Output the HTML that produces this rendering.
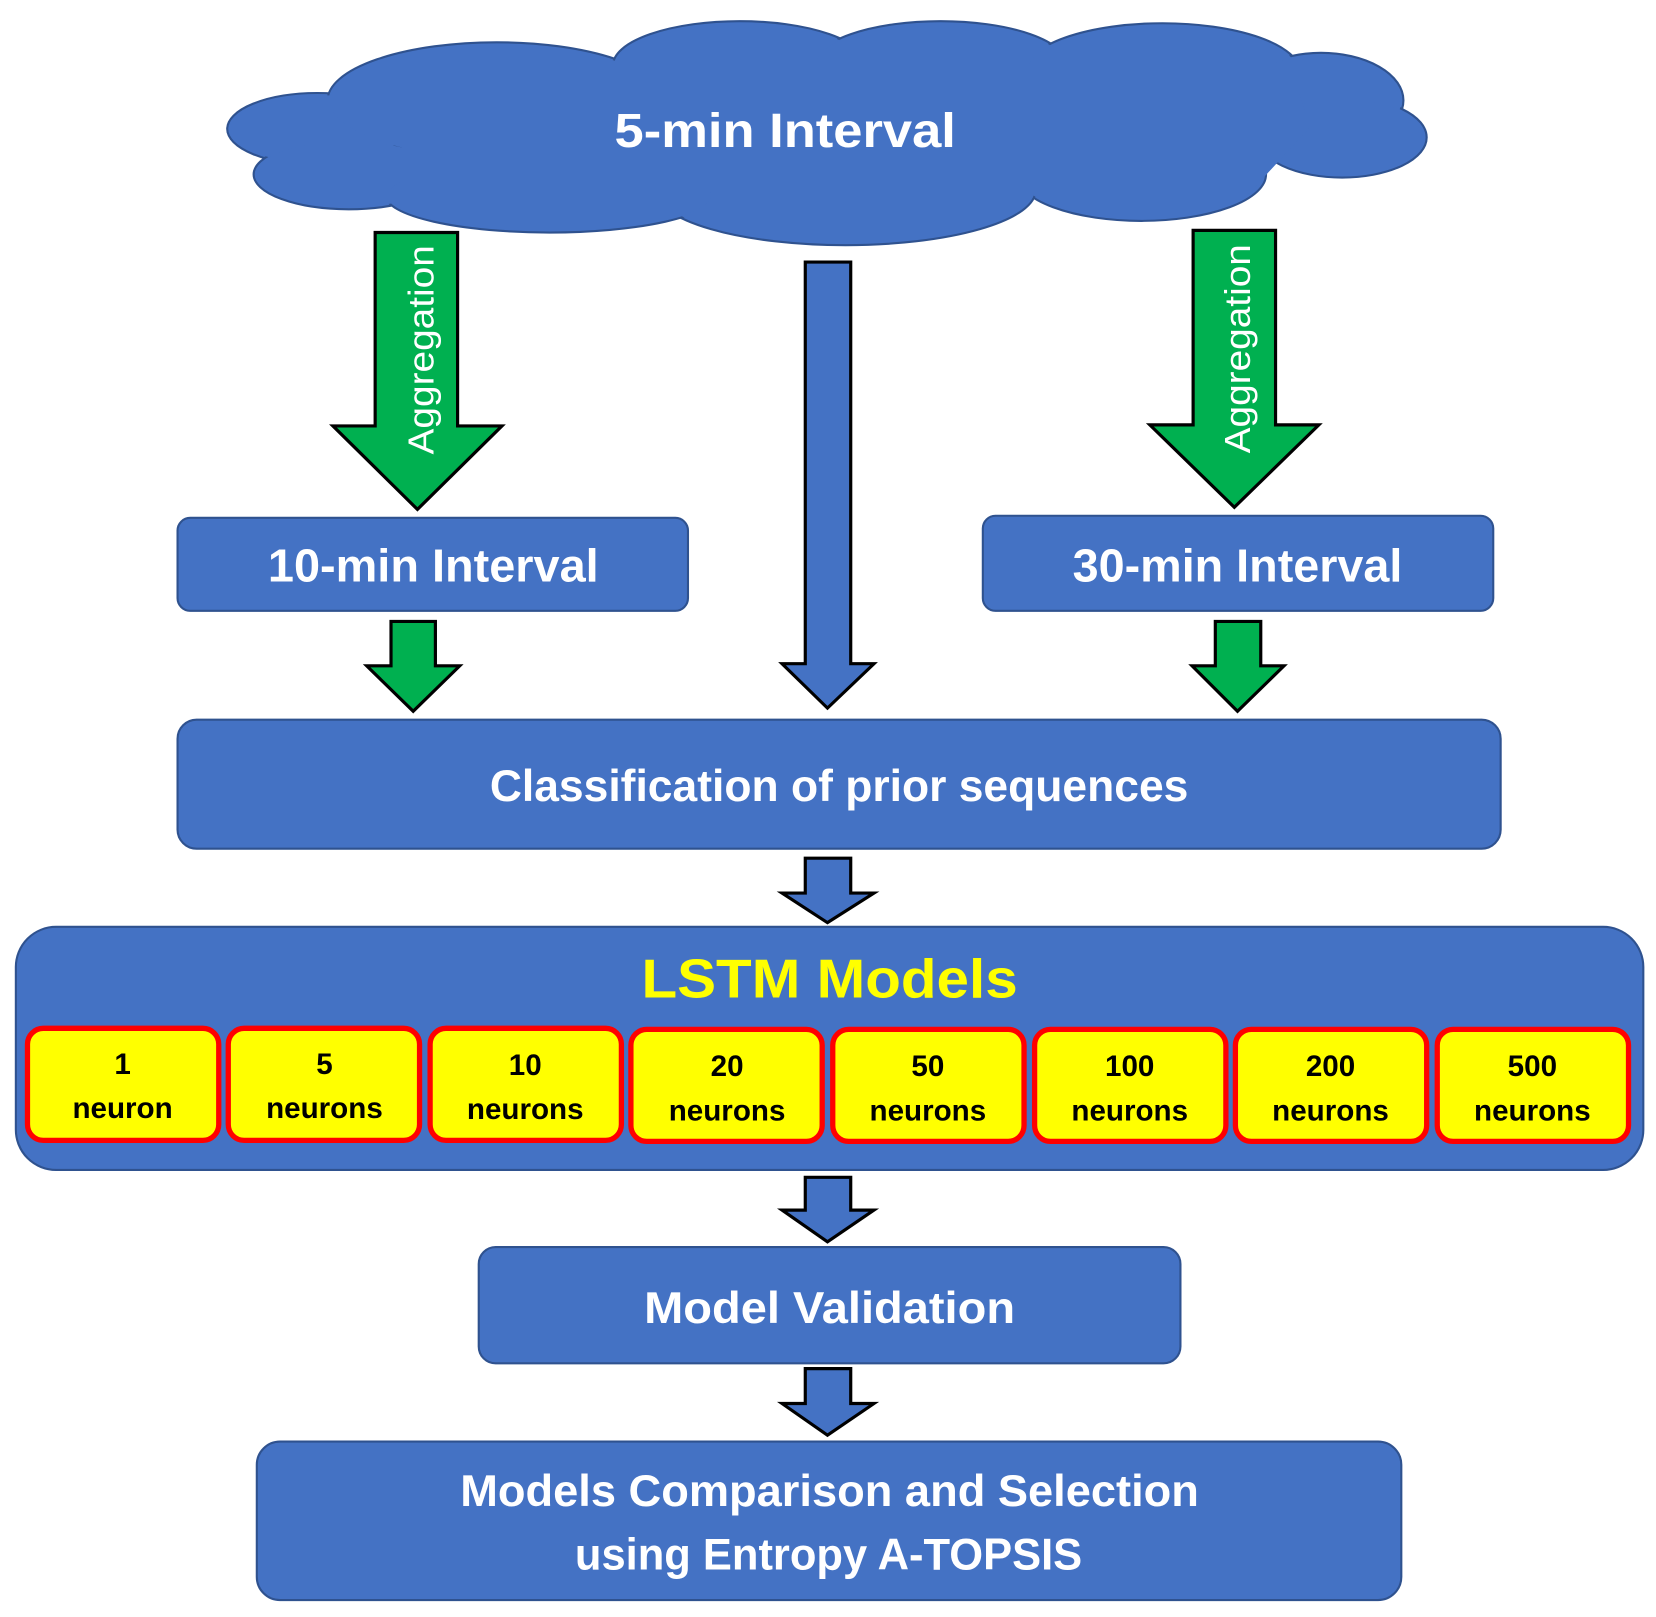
<!DOCTYPE html>
<html><head><meta charset="utf-8"><style>
html,body{margin:0;padding:0;background:#fff;}
svg{display:block;}
text{font-family:"Liberation Sans",sans-serif;font-weight:bold;}
</style></head><body>
<svg width="1656" height="1617" viewBox="0 0 1567 1530" preserveAspectRatio="none" xmlns="http://www.w3.org/2000/svg">
<rect width="1567" height="1530" fill="#fff"/>
<g fill="#4472C4" stroke="#2F528F" stroke-width="2">
<ellipse cx="300" cy="122" rx="85" ry="34"/>
<ellipse cx="330" cy="165" rx="90" ry="33"/>
<ellipse cx="470" cy="95" rx="160" ry="55"/>
<ellipse cx="700" cy="62" rx="120" ry="42"/>
<ellipse cx="890" cy="62" rx="120" ry="42"/>
<ellipse cx="1100" cy="68" rx="130" ry="46"/>
<ellipse cx="1250" cy="95" rx="78" ry="45"/>
<ellipse cx="1270" cy="130" rx="80" ry="38"/>
<ellipse cx="1080" cy="165" rx="118" ry="44"/>
<ellipse cx="800" cy="180" rx="180" ry="52"/>
<ellipse cx="520" cy="185" rx="155" ry="35"/>
</g>
<g fill="#4472C4">
<ellipse cx="300" cy="122" rx="83" ry="32"/>
<ellipse cx="330" cy="165" rx="88" ry="31"/>
<ellipse cx="470" cy="95" rx="158" ry="53"/>
<ellipse cx="700" cy="62" rx="118" ry="40"/>
<ellipse cx="890" cy="62" rx="118" ry="40"/>
<ellipse cx="1100" cy="68" rx="128" ry="44"/>
<ellipse cx="1250" cy="95" rx="76" ry="43"/>
<ellipse cx="1270" cy="130" rx="78" ry="36"/>
<ellipse cx="1080" cy="165" rx="116" ry="42"/>
<ellipse cx="800" cy="180" rx="178" ry="50"/>
<ellipse cx="520" cy="185" rx="153" ry="33"/>
<polygon points="380,60 1220,60 1240,120 1180,185 380,180"/>
</g>
<text x="743" y="139" fill="#fff" font-size="46" text-anchor="middle" textLength="323" lengthAdjust="spacingAndGlyphs">5-min Interval</text>

<g fill="#00B050" stroke="#000" stroke-width="3" stroke-linejoin="miter">
<polygon points="355,220 433,220 433,403 475,403 395,482 315,403 355,403"/>
<polygon points="1129,218 1207,218 1207,402 1248,402 1168,480 1088,402 1129,402"/>
<polygon points="370,588 412,588 412,630 435,630 391,673 347,630 370,630"/>
<polygon points="1150,588 1193,588 1193,630 1215,630 1171,673 1128,630 1150,630"/>
</g>
<text transform="translate(410,331) rotate(-90)" fill="#fff" font-size="34" style="font-weight:normal" text-anchor="middle" textLength="198" lengthAdjust="spacingAndGlyphs">Aggregation</text>
<text transform="translate(1183,330) rotate(-90)" fill="#fff" font-size="34" style="font-weight:normal" text-anchor="middle" textLength="198" lengthAdjust="spacingAndGlyphs">Aggregation</text>

<g fill="#4472C4" stroke="#000" stroke-width="3">
<polygon points="762,248 805,248 805,628 827,628 783,670 740,628 762,628"/>
<polygon points="762,812 805,812 805,845 827,845 783,873 740,845 762,845"/>
<polygon points="762,1114 805,1114 805,1145 827,1145 783,1175 740,1145 762,1145"/>
<polygon points="762,1295 805,1295 805,1328 827,1328 783,1358 740,1328 762,1328"/>
</g>

<g fill="#4472C4" stroke="#2F528F" stroke-width="2">
<rect x="168" y="490" width="483" height="88" rx="12"/>
<rect x="930" y="488" width="483" height="90" rx="12"/>
<rect x="168" y="681" width="1252" height="122" rx="18"/>
<rect x="15" y="877" width="1540" height="230" rx="38"/>
<rect x="453" y="1180" width="664" height="110" rx="16"/>
<rect x="243" y="1364" width="1083" height="150" rx="22"/>
</g>
<text x="410" y="550" fill="#fff" font-size="44" text-anchor="middle" textLength="313" lengthAdjust="spacingAndGlyphs">10-min Interval</text>
<text x="1171" y="550" fill="#fff" font-size="44" text-anchor="middle" textLength="312" lengthAdjust="spacingAndGlyphs">30-min Interval</text>
<text x="794" y="758" fill="#fff" font-size="42" text-anchor="middle" textLength="661" lengthAdjust="spacingAndGlyphs">Classification of prior sequences</text>
<text x="785" y="944" fill="#FFFF00" font-size="52" text-anchor="middle" textLength="356" lengthAdjust="spacingAndGlyphs">LSTM Models</text>
<text x="785" y="1252" fill="#fff" font-size="42" text-anchor="middle" textLength="351" lengthAdjust="spacingAndGlyphs">Model Validation</text>
<text x="785" y="1425" fill="#fff" font-size="42" text-anchor="middle" textLength="699" lengthAdjust="spacingAndGlyphs">Models Comparison and Selection</text>
<text x="784" y="1485" fill="#fff" font-size="42" text-anchor="middle" textLength="480" lengthAdjust="spacingAndGlyphs">using Entropy A-TOPSIS</text>

<g fill="#FFFF00" stroke="#FF0000" stroke-width="5">
<rect x="26" y="973" width="181" height="106" rx="15"/>
<rect x="216" y="973" width="181" height="106" rx="15"/>
<rect x="407" y="973" width="181" height="106" rx="15"/>
<rect x="597" y="974" width="181" height="106" rx="15"/>
<rect x="788" y="974" width="181" height="106" rx="15"/>
<rect x="979" y="974" width="181" height="106" rx="15"/>
<rect x="1169" y="974" width="181" height="106" rx="15"/>
<rect x="1360" y="974" width="181" height="106" rx="15"/>
</g>
<g fill="#000" font-size="28" text-anchor="middle">
<text x="116" y="1016">1</text><text x="116" y="1058">neuron</text>
<text x="307" y="1016">5</text><text x="307" y="1058">neurons</text>
<text x="497" y="1017">10</text><text x="497" y="1059">neurons</text>
<text x="688" y="1018">20</text><text x="688" y="1060">neurons</text>
<text x="878" y="1018">50</text><text x="878" y="1060">neurons</text>
<text x="1069" y="1018">100</text><text x="1069" y="1060">neurons</text>
<text x="1259" y="1018">200</text><text x="1259" y="1060">neurons</text>
<text x="1450" y="1018">500</text><text x="1450" y="1060">neurons</text>
</g>
</svg>
</body></html>
